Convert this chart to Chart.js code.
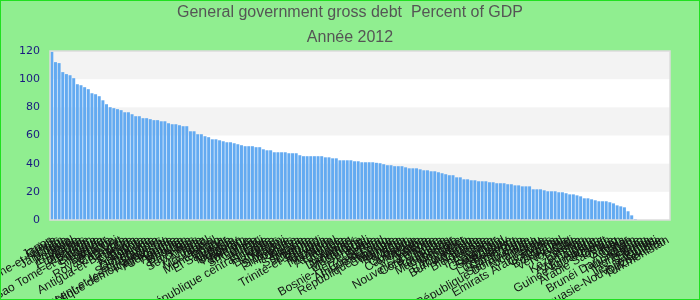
<!DOCTYPE html>
<html>
<head>
<meta charset="utf-8">
<script src="https://cdn.jsdelivr.net/npm/chart.js@4.4.0/dist/chart.umd.min.js"></script>
<style>
  html, body { margin: 0; padding: 0; background: #90ee90; }
  #wrap { width: 700px; height: 300px; box-sizing: border-box; border: 1px solid #20e020; background: #90ee90; }
  #debtChart { display: block; }
</style>
</head>
<body>
<div id="wrap"><canvas id="debtChart" width="698" height="298"></canvas></div>
<script>
// pays, classés par dette décroissante (2012)
const countries = [
  'Japon', 'Grèce', 'Saint-Christophe-et-Niévès', 'Liban', 'Jamaïque', 'Italie', 'Portugal', 'Érythrée',
  'Irlande', 'États-Unis', 'Grenade', 'Soudan', 'Sao Tomé-et-Principe', 'Belgique', 'Islande', 'Singapour',
  'Barbade', 'France', 'Royaume-Uni', 'Cap-Vert', 'Chypre', 'Antigua-et-Barbuda', 'Belize', 'Canada',
  'Espagne', 'Égypte', 'Zimbabwe', 'Dominique', 'Sainte-Lucie', 'Gambie', 'Saint-Vincent-et-les-Grenadines',
  'Congo, République démocratique du', 'Kirghizistan', 'Allemagne', 'Hongrie', 'Autriche', 'Maurice',
  'Bhoutan', 'Malte', 'Pays-Bas', 'Seychelles', 'Inde', 'Albanie', 'Israël', 'Mauritanie', 'Brésil',
  'Monténégro', 'Ghana', 'El Salvador', 'Croatie', 'Malaisie', 'Uruguay', 'Pakistan', 'Vietnam',
  'Jordanie', 'Sri Lanka', 'Guinée', 'Maroc', 'Fidji', 'République centrafricaine', 'Finlande', 'Ukraine',
  'Bahamas', 'Yémen', 'Malawi', 'Slovaquie', 'Philippines', 'Pologne', 'Kenya', 'Tunisie', 'Suriname',
  'Slovénie', 'Lettonie', 'Trinité-et-Tobago', 'Burundi', 'Guyana', 'Mexique', 'Thaïlande', 'Népal',
  'Argentine', 'Tanzanie', 'Suisse', 'Lituanie', 'Danemark', 'Honduras', 'Macédoine', 'Sénégal', 'Haïti',
  'Bosnie-Herzégovine', 'Serbie', 'Costa Rica', 'Afrique du Sud', 'Lesotho', 'République tchèque',
  'Colombie', 'Namibie', 'Panama', 'Rwanda', 'Bénin', 'Ouganda', 'Cambodge', 'Moldavie', 'Corée',
  'Bolivie', 'Arménie', 'Nouvelle-Zélande', "Côte d'Ivoire", 'Tonga', 'Roumanie', 'Tadjikistan',
  'Madagascar', 'Géorgie', 'Mongolie', 'Niger', 'Bangladesh', 'Burkina Faso', 'Australie', 'Zambie',
  'Biélorussie', 'Turquie', 'Indonésie', 'Chine', 'Équateur', 'Guatemala', 'Swaziland', 'Paraguay',
  'Bulgarie', 'Luxembourg', 'Cameroun', 'Togo', 'Sierra Leone', 'République Dominicaine', 'Vanuatu',
  'Nicaragua', 'Pérou', 'Syrie', 'Emirats Arabes Unis', 'Comores', 'Nigéria', 'Botswana', 'Tchad',
  'Venezuela', 'Norvège', 'Chili', 'Russie', 'Estonie', 'Kazakhstan', 'Iran', 'Azerbaïdjan', 'Algérie',
  'Afghanistan', 'Guinée équatoriale', 'Koweït', 'Oman', 'Arabie Saoudite', 'Iraq', 'Gabon', 'Angola',
  'Qatar', 'Libye', 'Brunéi Darussalam', 'Timor-Leste', 'Macao', 'Hong Kong', 'Samoa', 'Îles Salomon',
  'Kiribati', 'Papouasie-Nouvelle-Guinée', 'Ouzbékistan', 'Turkménistan'
];

const debt2012 = [
  119.5, 112.1, 111.4, 105.0, 103.6, 102.8, 100.7, 96.4, 95.7, 94.3, 92.9, 90.0, 89.3, 87.9, 85.0, 82.2,
  80.1, 79.4, 78.7, 78.0, 76.5, 76.5, 75.1, 73.7, 73.7, 72.3, 72.3, 71.6, 70.9, 70.9, 70.1, 70.1, 68.7,
  68.0, 68.0, 67.3, 66.6, 66.6, 63.0, 63.0, 60.9, 60.9, 59.5, 58.8, 57.3, 57.3, 56.6, 55.9, 55.2, 55.2,
  54.5, 53.8, 53.1, 52.4, 52.4, 52.4, 51.7, 51.7, 50.2, 49.5, 49.5, 48.1, 48.1, 48.1, 48.1, 47.4, 47.4,
  47.4, 46.0, 45.3, 45.3, 45.3, 45.3, 45.3, 45.3, 44.5, 44.5, 43.8, 43.8, 42.4, 42.4, 42.4, 42.4, 41.7,
  41.7, 41.0, 41.0, 41.0, 41.0, 40.6, 40.3, 39.6, 38.9, 38.9, 38.2, 38.2, 38.2, 37.4, 36.7, 36.7, 36.7,
  36.0, 35.3, 35.3, 34.6, 34.6, 33.9, 33.2, 32.5, 31.8, 31.8, 30.3, 30.3, 28.9, 28.9, 28.2, 28.2, 27.5,
  27.5, 27.5, 26.8, 26.8, 26.1, 26.1, 26.1, 25.4, 25.4, 24.6, 24.6, 23.9, 23.9, 23.9, 21.8, 21.8, 21.8,
  21.1, 20.4, 20.4, 20.4, 19.7, 19.7, 19.0, 18.2, 18.2, 17.5, 16.8, 15.4, 15.4, 14.7, 14.0, 13.3, 13.3,
  13.3, 12.6, 11.8, 10.4, 9.7, 9.0, 6.2, 3.3, 0.7,
  null, null, null, null, null, null, null, null, null
];

const yTicks = [0, 20, 40, 60, 80, 100, 120];

// bandes grises / blanches + cadre du graphique
const plotBands = {
  id: 'plotBands',
  beforeDatasetsDraw(chart) {
    const { ctx, chartArea: a, scales: { y } } = chart;
    ctx.save();
    ctx.fillStyle = '#ffffff';
    ctx.fillRect(a.left, a.top, a.width, a.height);
    for (let i = 0; i < yTicks.length - 1; i++) {
      if ((yTicks.length - 2 - i) % 2 !== 0) continue;
      const top = y.getPixelForValue(yTicks[i + 1]);
      const bottom = y.getPixelForValue(yTicks[i]);
      ctx.fillStyle = '#f3f3f3';
      ctx.fillRect(a.left, top, a.width, bottom - top);
    }
    ctx.restore();
  },
  afterDatasetsDraw(chart) {
    const { ctx, chartArea: a } = chart;
    ctx.save();
    ctx.strokeStyle = '#dcdcdc';
    ctx.lineWidth = 1.5;
    ctx.strokeRect(a.left, a.top, a.width, a.height);
    ctx.restore();
  }
};

new Chart(document.getElementById('debtChart'), {
  type: 'bar',
  data: {
    labels: countries,
    datasets: [{
      data: debt2012,
      backgroundColor: '#63aaf1',
      borderWidth: 0,
      barPercentage: 1,
      categoryPercentage: 0.82
    }]
  },
  options: {
    responsive: false,
    animation: false,
    layout: { padding: 0 },
    plugins: {
      legend: { display: false },
      tooltip: { enabled: false },
      title: {
        display: true,
        text: 'General government gross debt  Percent of GDP',
        color: '#555555',
        font: { family: 'Liberation Sans, Arial, sans-serif', size: 16, weight: 'normal' },
        padding: { top: 2.4, bottom: 4 }
      },
      subtitle: {
        display: true,
        text: 'Année 2012',
        color: '#555555',
        font: { family: 'Liberation Sans, Arial, sans-serif', size: 16, weight: 'normal' },
        padding: { top: 1.3, bottom: 3.9 }
      }
    },
    scales: {
      x: {
        grid: { display: false, drawTicks: false },
        border: { display: false },
        ticks: {
          autoSkip: false,
          minRotation: 30,
          maxRotation: 30,
          padding: 13,
          color: '#141414',
          font: { family: 'Liberation Sans, Arial, sans-serif', size: 12 }
        },
        afterFit(scale) {
          scale.height = 79;
          scale.paddingLeft = 0;
          scale.paddingRight = 29;
        }
      },
      y: {
        min: 0,
        max: 120,
        grid: { display: false, drawTicks: false },
        border: { display: false },
        ticks: {
          stepSize: 20,
          padding: 10,
          color: '#1a1a80',
          font: { family: 'DejaVu Sans, sans-serif', size: 11 }
        },
        afterFit(scale) {
          scale.width = 49;
        }
      }
    }
  },
  plugins: [plotBands]
});
</script>
</body>
</html>
